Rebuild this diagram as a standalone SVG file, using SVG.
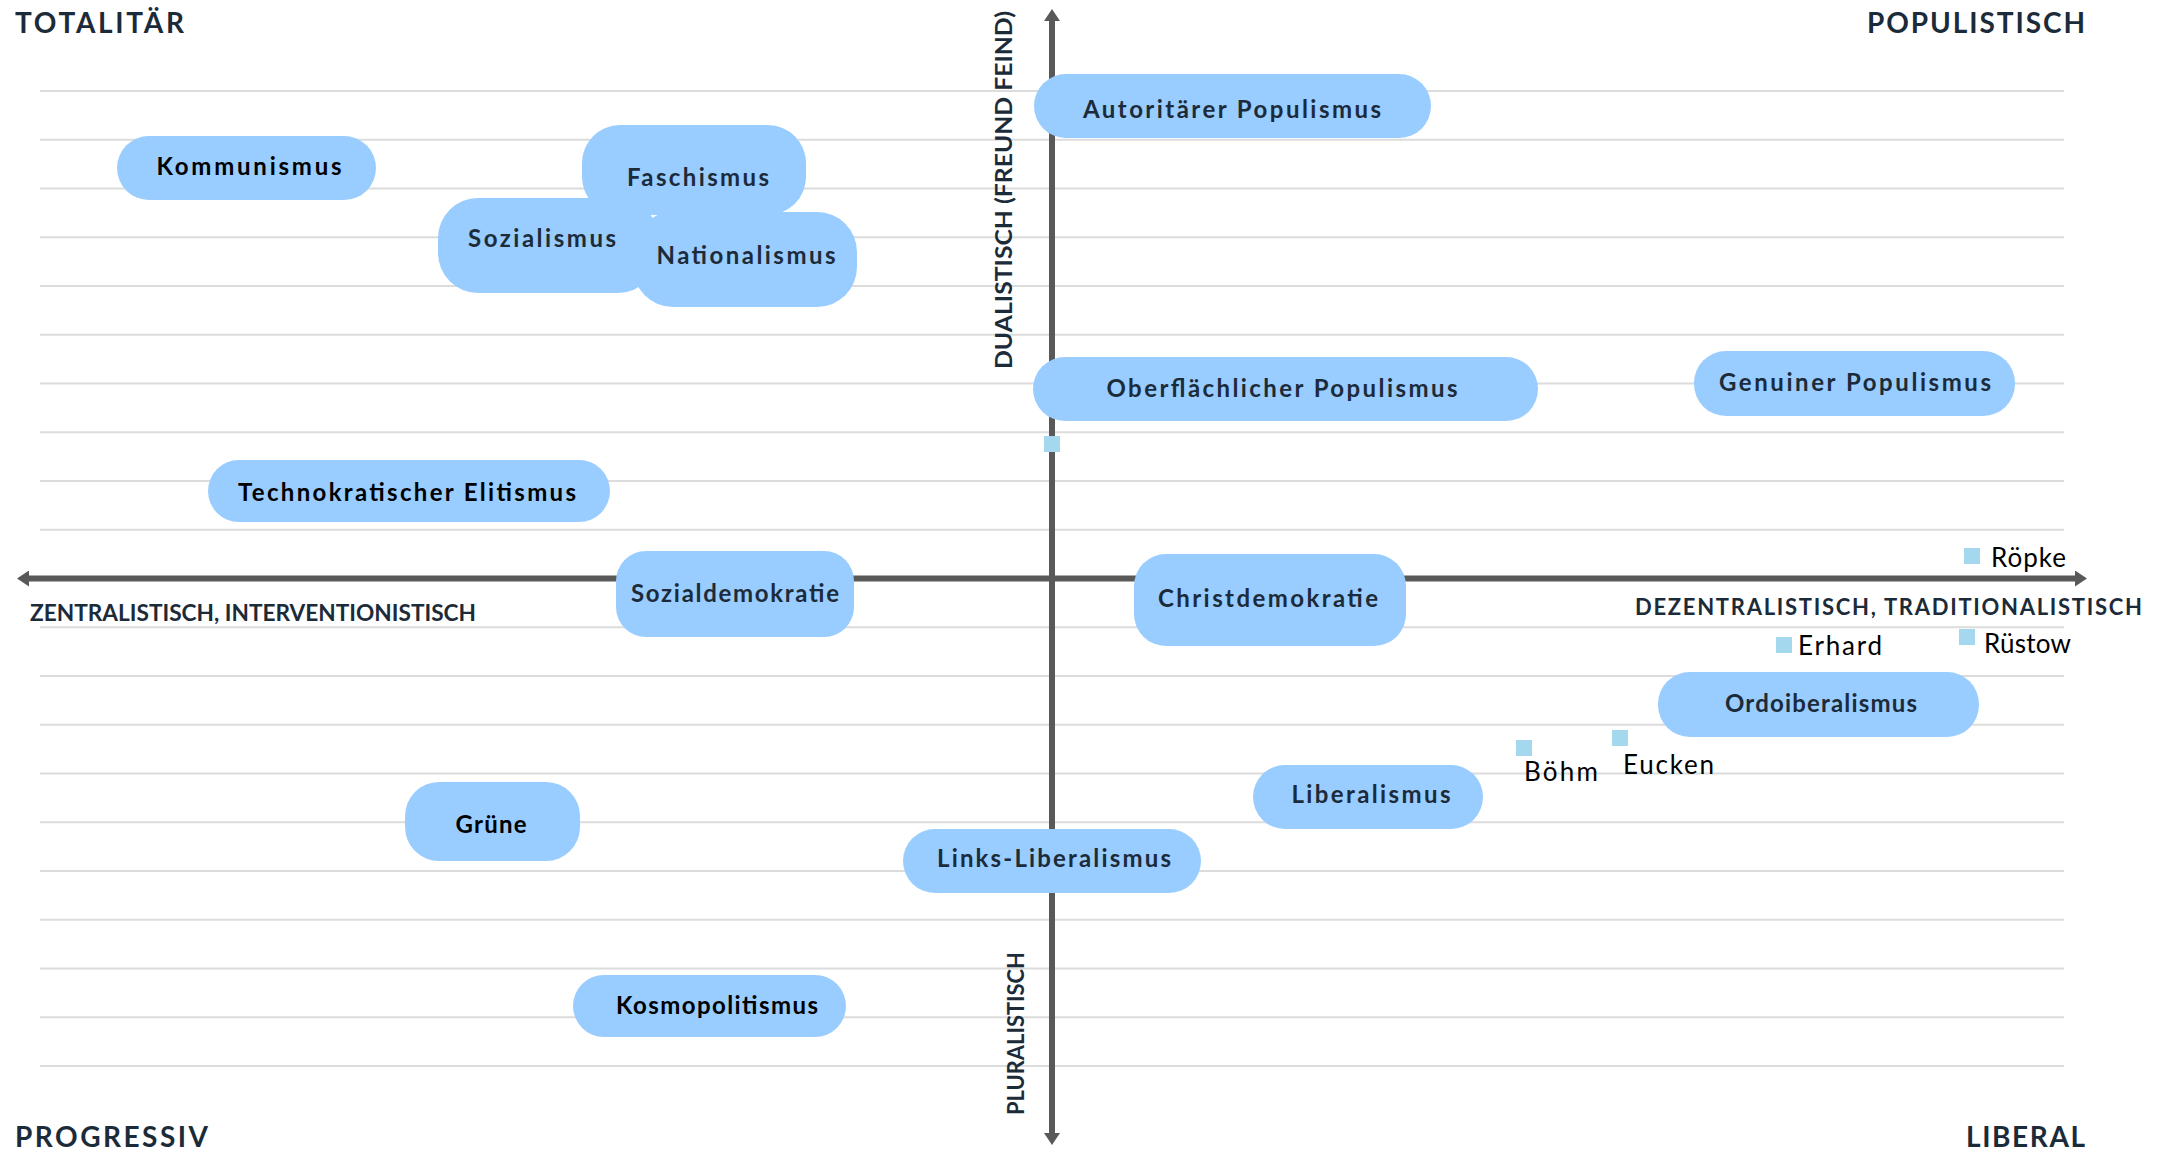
<svg xmlns="http://www.w3.org/2000/svg" width="2167" height="1151" viewBox="0 0 2167 1151">
<style>
.grid line{stroke:#dcdcdc;stroke-width:2}
.axis{stroke:#595959;stroke-width:6;fill:none}
.pill{fill:#99ccff}
.lbl{font-family:"Lato","Open Sans",sans-serif;font-weight:700;font-size:24px;fill:#1c2b39;text-anchor:middle}
.blk{fill:#000}
.corner{font-family:"Lato","Open Sans",sans-serif;font-weight:700;font-size:28px;fill:#1c2b39}
.ax{font-family:"Lato","Open Sans",sans-serif;font-weight:700;font-size:22px;fill:#1c2b39}
.rot{font-family:"Lato","Open Sans",sans-serif;font-weight:700;font-size:23px;fill:#1c2b39}
.mk{fill:#a3d8ee}
.mt{font-family:"Lato","Open Sans",sans-serif;font-size:26px;fill:#000}
</style>
<defs>
<marker id="ah" viewBox="0 0 12 16" markerWidth="12" markerHeight="16" refX="0" refY="8" markerUnits="userSpaceOnUse" orient="auto-start-reverse">
<path d="M0,0 L12,8 L0,16 z" fill="#595959"/>
</marker>
</defs>
<rect width="2167" height="1151" fill="#fff"/>
<g class="grid">
<line x1="40" y1="91" x2="2064" y2="91"/>
<line x1="40" y1="139.75" x2="2064" y2="139.75"/>
<line x1="40" y1="188.5" x2="2064" y2="188.5"/>
<line x1="40" y1="237.25" x2="2064" y2="237.25"/>
<line x1="40" y1="286" x2="2064" y2="286"/>
<line x1="40" y1="334.75" x2="2064" y2="334.75"/>
<line x1="40" y1="383.5" x2="2064" y2="383.5"/>
<line x1="40" y1="432.25" x2="2064" y2="432.25"/>
<line x1="40" y1="481" x2="2064" y2="481"/>
<line x1="40" y1="529.75" x2="2064" y2="529.75"/>
<line x1="40" y1="627.25" x2="2064" y2="627.25"/>
<line x1="40" y1="676" x2="2064" y2="676"/>
<line x1="40" y1="724.75" x2="2064" y2="724.75"/>
<line x1="40" y1="773.5" x2="2064" y2="773.5"/>
<line x1="40" y1="822.25" x2="2064" y2="822.25"/>
<line x1="40" y1="871" x2="2064" y2="871"/>
<line x1="40" y1="919.75" x2="2064" y2="919.75"/>
<line x1="40" y1="968.5" x2="2064" y2="968.5"/>
<line x1="40" y1="1017.25" x2="2064" y2="1017.25"/>
<line x1="40" y1="1066" x2="2064" y2="1066"/>
</g>
<g id="connectors">
<line class="axis" x1="29" y1="578.5" x2="2075" y2="578.5" marker-start="url(#ah)" marker-end="url(#ah)"/>
<line class="axis" x1="1052" y1="21" x2="1052" y2="1133" marker-start="url(#ah)" marker-end="url(#ah)"/>
</g>
<g id="labels">
<text class="corner" x="15" y="33" textLength="169">TOTALITÄR</text>
<text class="corner" x="1867" y="33" textLength="218">POPULISTISCH</text>
<text class="corner" x="15" y="1147" textLength="193">PROGRESSIV</text>
<text class="corner" x="1966" y="1147" textLength="119">LIBERAL</text>
<text class="ax" x="30" y="621" textLength="446" lengthAdjust="spacingAndGlyphs" style="font-size:23px">ZENTRALISTISCH, INTERVENTIONISTISCH</text>
<text class="ax" x="1635" y="615" textLength="507">DEZENTRALISTISCH, TRADITIONALISTISCH</text>
<text class="rot" transform="translate(1012,369) rotate(-90)" textLength="358" lengthAdjust="spacingAndGlyphs">DUALISTISCH (FREUND FEIND)</text>
<text class="rot" transform="translate(1024,1115) rotate(-90)" textLength="163" lengthAdjust="spacingAndGlyphs">PLURALISTISCH</text>
</g>
<g id="n-kommunismus"><rect class="pill" x="117" y="136" width="259" height="64" rx="32"/><text class="lbl blk" x="249" y="175" textLength="185">Kommunismus</text></g>
<g id="n-faschismus"><rect class="pill" x="582" y="125" width="224" height="90" rx="38"/><text class="lbl" x="698" y="186" textLength="142">Faschismus</text></g>
<g id="n-sozialismus"><rect class="pill" x="438" y="198" width="220" height="95" rx="40"/><text class="lbl" x="542" y="247" textLength="148">Sozialismus</text></g>
<g id="n-nationalismus"><rect class="pill" x="633" y="212" width="224" height="95" rx="40"/><text class="lbl" x="746" y="264" textLength="179">Nationalismus</text></g>
<g id="n-autoritaer"><rect class="pill" x="1034" y="74" width="397" height="64" rx="32"/><text class="lbl" x="1232" y="118" textLength="298">Autoritärer Populismus</text></g>
<g id="n-oberflaechlich"><rect class="pill" x="1033" y="357" width="505" height="64" rx="32"/><text class="lbl" x="1282" y="397" textLength="351">Oberflächlicher Populismus</text></g>
<g id="n-genuin"><rect class="pill" x="1694" y="351" width="321" height="65" rx="32"/><text class="lbl" x="1855" y="391" textLength="272">Genuiner Populismus</text></g>
<g id="n-technokratie"><rect class="pill" x="208" y="460" width="402" height="62" rx="31"/><text class="lbl blk" x="407" y="501" textLength="338">Technokratischer Elitismus</text></g>
<g id="n-sozialdemokratie"><rect class="pill" x="616" y="551" width="238" height="86" rx="30"/><text class="lbl" x="735" y="602" textLength="208">Sozialdemokratie</text></g>
<g id="n-christdemokratie"><rect class="pill" x="1134" y="554" width="272" height="92" rx="32"/><text class="lbl" x="1268" y="607" textLength="220">Christdemokratie</text></g>
<g id="n-ordoliberalismus"><rect class="pill" x="1658" y="672" width="321" height="65" rx="32"/><text class="lbl" x="1821" y="712" textLength="192">Ordoiberalismus</text></g>
<g id="n-liberalismus"><rect class="pill" x="1253" y="765" width="230" height="64" rx="32"/><text class="lbl" x="1371" y="803" textLength="159">Liberalismus</text></g>
<g id="n-linksliberalismus"><rect class="pill" x="903" y="829" width="298" height="64" rx="32"/><text class="lbl" x="1054" y="867" textLength="234">Links-Liberalismus</text></g>
<g id="n-gruene"><rect class="pill" x="405" y="782" width="175" height="79" rx="34"/><text class="lbl blk" x="491" y="833" textLength="71">Grüne</text></g>
<g id="n-kosmopolitismus"><rect class="pill" x="573" y="975" width="273" height="62" rx="31"/><text class="lbl blk" x="717" y="1014" textLength="202">Kosmopolitismus</text></g>
<g id="p-center"><rect class="mk" x="1044" y="436" width="16" height="16"/></g>
<g id="p-roepke"><rect class="mk" x="1964" y="548" width="16" height="16"/><text class="mt" x="1991" y="567" textLength="75">Röpke</text></g>
<g id="p-erhard"><rect class="mk" x="1776" y="637" width="16" height="16"/><text class="mt" x="1798" y="655" textLength="84">Erhard</text></g>
<g id="p-ruestow"><rect class="mk" x="1959" y="629" width="16" height="16"/><text class="mt" x="1984" y="653" textLength="87">Rüstow</text></g>
<g id="p-boehm"><rect class="mk" x="1516" y="740" width="16" height="16"/><text class="mt" x="1524" y="781" textLength="74">Böhm</text></g>
<g id="p-eucken"><rect class="mk" x="1612" y="730" width="16" height="16"/><text class="mt" x="1623" y="774" textLength="91">Eucken</text></g>
</svg>
